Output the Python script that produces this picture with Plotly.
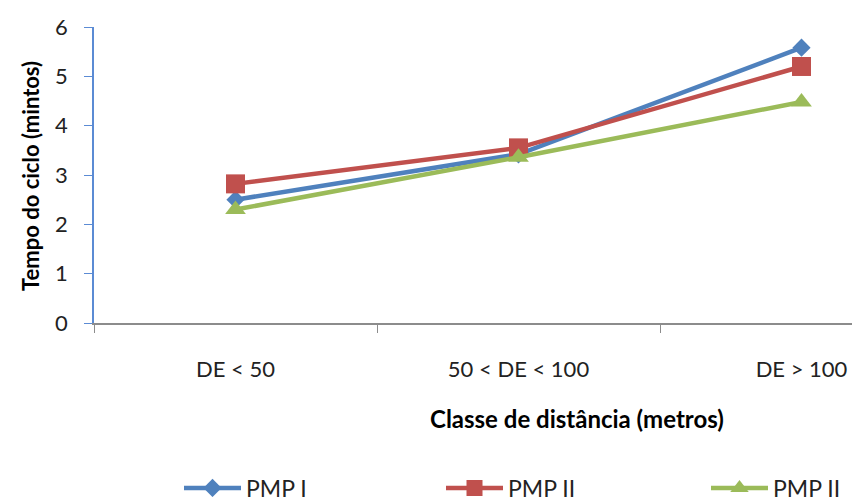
import plotly.graph_objects as go

categories = ["DE < 50", "50 < DE < 100", "DE > 100"]
pmp1 = [2.5, 3.42, 5.58]
pmp2 = [2.82, 3.55, 5.2]
pmp3 = [2.3, 3.36, 4.48]
series_names = ["PMP I", "PMP II", "PMP II"]
y_ticks = [0, 1, 2, 3, 4, 5, 6]

W, H = 852, 497
L, R, T, B = 94, 0, 27, 174
pw, ph = W - L - R, H - T - B

FONT = "Lato"

fig = go.Figure()
styles = [
    ("#4F81BD", "diamond", 14),
    ("#C0504D", "square", 19),
    ("#9BBB59", "triangle-up", 18),
]
legend_ids = ["legend", "legend2", "legend3"]
legend_px = [179, 441, 706]
for name, vals, (col, sym, sz), lid in zip(series_names, [pmp1, pmp2, pmp3], styles, legend_ids):
    fig.add_trace(go.Scatter(
        x=categories, y=vals, name=name, mode="lines+markers",
        line=dict(color=col, width=4.5),
        marker=dict(symbol=sym, size=sz, color=col),
        legend=lid,
    ))

# category axis spans 283 px per category; plot cropped at right edge
x_right = -0.5 + pw / 283.0


def legend_cfg(px):
    return dict(
        orientation="h", x=(px - L) / pw, y=(T + ph - 488) / ph,
        xanchor="left", yanchor="middle",
        itemwidth=57,
        font=dict(family=FONT, size=23, color="#222222"),
        bgcolor="rgba(0,0,0,0)", borderwidth=0,
    )


fig.update_layout(
    width=W, height=H,
    margin=dict(l=L, r=R, t=T, b=B, autoexpand=False),
    plot_bgcolor="white", paper_bgcolor="white",
    font=dict(family=FONT, size=22, color="#222222"),
    showlegend=True,
    legend=legend_cfg(legend_px[0]),
    legend2=legend_cfg(legend_px[1]),
    legend3=legend_cfg(legend_px[2]),
    xaxis=dict(
        type="category", range=[-0.5, x_right],
        showline=True, linecolor="#8c8c8c", linewidth=1.5,
        ticks="outside", ticklen=8, tickcolor="#8c8c8c", tickson="boundaries",
        showgrid=False, zeroline=False,
        ticklabelstandoff=26,
        tickfont=dict(family=FONT, size=22, color="#222222"),
    ),
    yaxis=dict(
        range=[0, 6], tickvals=y_ticks,
        showline=True, linecolor="#5b8bd4", linewidth=1.5,
        ticks="outside", ticklen=8, tickcolor="#5b8bd4",
        showgrid=False, zeroline=False,
        ticklabelstandoff=12,
        tickfont=dict(family=FONT, size=22, color="#222222"),
    ),
    annotations=[
        dict(text="<b>Tempo do ciclo (mintos)</b>", xref="paper", yref="paper",
             x=(30 - L) / pw, y=(T + ph - 176) / ph, textangle=-90, showarrow=False,
             font=dict(family=FONT, size=22, color="#000000"),
             xanchor="center", yanchor="middle"),
        dict(text="<b>Classe de distância (metros)</b>", xref="paper", yref="paper",
             x=(577 - L) / pw, y=(T + ph - 418) / ph, showarrow=False,
             font=dict(family=FONT, size=24, color="#000000"),
             xanchor="center", yanchor="middle"),
    ],
)

fig.write_html("out.html")
